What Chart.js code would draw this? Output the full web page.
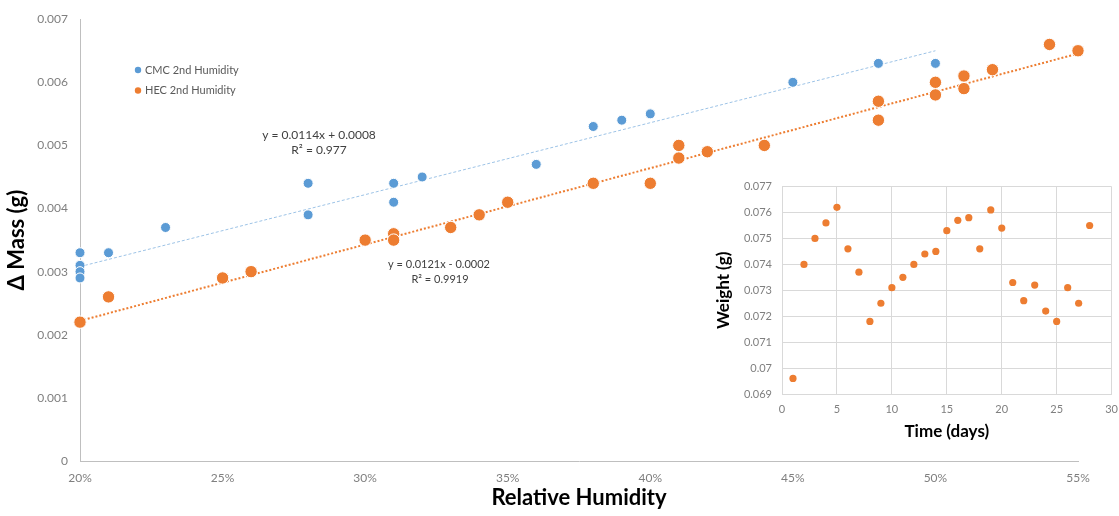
<!DOCTYPE html>
<html>
<head>
<meta charset="utf-8">
<script src="https://cdn.jsdelivr.net/npm/chart.js@4.4.0/dist/chart.umd.min.js"></script>
<style>
  body { margin: 0; background: #fff; }
  #wrap { position: relative; width: 1119px; height: 516px; overflow: hidden; }
  #insetBox { position: absolute; left: 712px; top: 170px; background: #fff; }
  canvas { display: block; }
</style>
</head>
<body>
<div id="wrap">
  <canvas id="main" width="1119" height="516"></canvas>
  <div id="insetBox"><canvas id="inset" width="415" height="272"></canvas></div>
</div>
<script>
// Datos del grafico principal (humedad relativa en %)
const cmcRH = [20, 20, 20, 20, 21, 23, 28, 28, 31, 31, 32, 36, 38, 39, 40, 45, 48, 50];
const cmcMass = [0.0033, 0.0031, 0.0030, 0.0029, 0.0033, 0.0037, 0.0044, 0.0039, 0.0044, 0.0041,
                 0.0045, 0.0047, 0.0053, 0.0054, 0.0055, 0.0060, 0.0063, 0.0063];

const hecRH = [20, 21, 25, 26, 30, 31, 31, 33, 34, 35, 38, 40, 41, 41, 42, 44, 48, 48, 50, 50, 51, 51, 52, 54, 55];
const hecMass = [0.0022, 0.0026, 0.0029, 0.0030, 0.0035, 0.0036, 0.0035, 0.0037, 0.0039, 0.0041,
                 0.0044, 0.0044, 0.0050, 0.0048, 0.0049, 0.0050, 0.0057, 0.0054, 0.0060, 0.0058,
                 0.0061, 0.0059, 0.0062, 0.0066, 0.0065];

// Lineas de tendencia (extremos)
const cmcTrendRH = [20, 50];
const cmcTrendMass = [0.00308, 0.0065];
const hecTrendRH = [20, 55];
const hecTrendMass = [0.00222, 0.006455];

const legendLabels = ['CMC 2nd Humidity', 'HEC 2nd Humidity'];
const cmcEquation = ['y = 0.0114x + 0.0008', 'R\u00B2 = 0.977'];
const hecEquation = ['y = 0.0121x - 0.0002', 'R\u00B2 = 0.9919'];

// Datos del grafico pequeno
const days = [1, 2, 3, 4, 5, 6, 7, 8, 9, 10, 11, 12, 13, 14, 15, 16, 17, 18, 19, 20, 21, 22, 23, 24, 25, 26, 27, 28];
const weights = [0.0696, 0.0740, 0.0750, 0.0756, 0.0762, 0.0746, 0.0737, 0.0718, 0.0725, 0.0731,
                 0.0735, 0.0740, 0.0744, 0.0745, 0.0753, 0.0757, 0.0758, 0.0746, 0.0761, 0.0754,
                 0.0733, 0.0726, 0.0732, 0.0722, 0.0718, 0.0731, 0.0725, 0.0755];

const BLUE = '#5B9BD5';
const ORANGE = '#ED7D31';
const TICK = '#7F7F7F';

Chart.defaults.font.family = 'Lato';

function pts(xs, ys) {
    return xs.map((x, i) => ({ x: x, y: ys[i] }));
}

// Leyenda y ecuaciones dibujadas sobre el area
const textPlugin = {
    id: 'textPlugin',
    afterDraw(chart) {
        const ctx = chart.ctx;
        ctx.save();
        ctx.font = '11px Lato';
        ctx.textBaseline = 'middle';
        ctx.textAlign = 'left';
        const colors = [BLUE, ORANGE];
        legendLabels.forEach((t, i) => {
            const y = 70 + i * 20.5;
            ctx.fillStyle = colors[i];
            ctx.beginPath();
            ctx.arc(138, y, 3.2, 0, Math.PI * 2);
            ctx.fill();
            ctx.fillStyle = '#595959';
            ctx.fillText(t, 145, y);
        });
        ctx.fillStyle = '#404040';
        ctx.textAlign = 'center';
        ctx.font = '12px Lato';
        ctx.fillText(cmcEquation[0], 319, 135);
        ctx.fillText(cmcEquation[1], 319, 150);
        ctx.font = '11px Lato';
        ctx.fillText(hecEquation[0], 439, 264);
        ctx.fillText(hecEquation[1], 440, 279);
        ctx.restore();
    }
};

new Chart(document.getElementById('main'), {
    type: 'scatter',
    data: {
        datasets: [
            {
                label: legendLabels[0],
                data: pts(cmcRH, cmcMass),
                backgroundColor: BLUE,
                borderColor: '#fff',
                borderWidth: 1,
                pointRadius: 5,
                clip: false
            },
            {
                label: legendLabels[1],
                data: pts(hecRH, hecMass),
                backgroundColor: ORANGE,
                borderColor: '#fff',
                borderWidth: 1,
                pointRadius: 6.2,
                clip: false
            },
            {
                data: pts(cmcTrendRH, cmcTrendMass),
                showLine: true,
                borderColor: '#9DC3E6',
                borderWidth: 1,
                borderDash: [3, 2],
                pointRadius: 0,
                clip: false
            },
            {
                data: pts(hecTrendRH, hecTrendMass),
                showLine: true,
                borderColor: ORANGE,
                borderWidth: 2,
                borderDash: [2, 2],
                pointRadius: 0,
                clip: false
            }
        ]
    },
    options: {
        responsive: false,
        animation: false,
        layout: { padding: { top: 17, right: 41, left: 0, bottom: 0 } },
        plugins: { legend: { display: false }, tooltip: { enabled: false } },
        scales: {
            x: {
                type: 'linear',
                min: 20,
                max: 55,
                grid: { display: false, drawTicks: false },
                border: { display: true, color: '#BFBFBF', width: 1 },
                ticks: {
                    stepSize: 5,
                    padding: 10,
                    color: TICK,
                    font: { size: 12 },
                    callback: v => v + '%'
                },
                title: {
                    display: true,
                    text: 'Relative Humidity',
                    color: '#000',
                    font: { size: 22, weight: 'bold' },
                    padding: { top: 0, bottom: 5 }
                },
                afterFit: s => { s.height = 55; }
            },
            y: {
                min: 0,
                max: 0.007,
                grid: { display: false, drawTicks: false },
                border: { display: true, color: '#BFBFBF', width: 1 },
                ticks: {
                    stepSize: 0.001,
                    padding: 12,
                    color: TICK,
                    font: { size: 12 },
                    callback: v => v === 0 ? '0' : v.toFixed(3)
                },
                title: {
                    display: true,
                    text: '\u0394 Mass (g)',
                    color: '#000',
                    font: { size: 22, weight: 'bold' },
                    padding: { top: 4, bottom: 0 }
                },
                afterFit: s => { s.width = 80; }
            }
        }
    },
    plugins: [textPlugin]
});

// Grafico pequeno: peso vs tiempo
new Chart(document.getElementById('inset'), {
    type: 'scatter',
    data: {
        datasets: [{
            data: pts(days, weights),
            backgroundColor: ORANGE,
            borderWidth: 0,
            pointRadius: 3.6
        }]
    },
    options: {
        responsive: false,
        animation: false,
        layout: { padding: { top: 14, right: 0, left: 0, bottom: 0 } },
        plugins: { legend: { display: false }, tooltip: { enabled: false } },
        scales: {
            x: {
                min: 0,
                max: 30,
                grid: { color: '#D9D9D9', drawTicks: false },
                border: { color: '#D9D9D9' },
                ticks: { stepSize: 5, padding: 9, color: TICK, font: { size: 11 } },
                title: {
                    display: true,
                    text: 'Time (days)',
                    color: '#000',
                    font: { size: 17, weight: 'bold' },
                    padding: { top: 0, bottom: 0 }
                },
                afterFit: s => { s.height = 48; }
            },
            y: {
                min: 0.069,
                max: 0.077,
                grid: { color: '#D9D9D9', drawTicks: false },
                border: { color: '#D9D9D9' },
                ticks: {
                    stepSize: 0.001,
                    padding: 10,
                    color: TICK,
                    font: { size: 11 },
                    callback: v => String(parseFloat(v.toFixed(3)))
                },
                title: {
                    display: true,
                    text: 'Weight (g)',
                    color: '#000',
                    font: { size: 17, weight: 'bold' },
                    padding: { top: 1, bottom: 0 }
                },
                afterFit: s => { s.width = 70; }
            }
        }
    }
});
</script>
</body>
</html>
